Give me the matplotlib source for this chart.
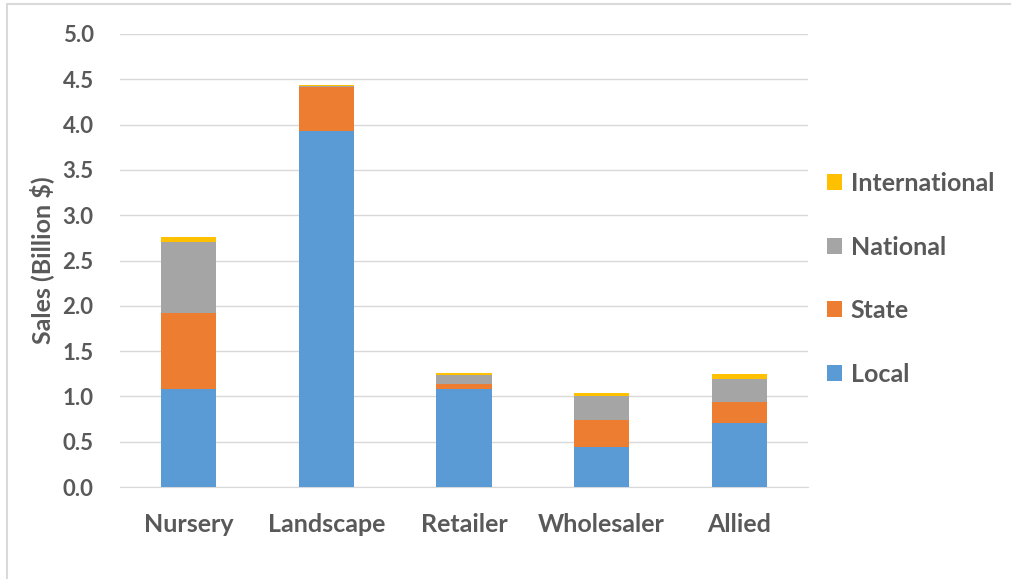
import matplotlib.pyplot as plt
import numpy as np
from matplotlib.patches import Rectangle

# sales by market, billion dollars
categories = ['Nursery', 'Landscape', 'Retailer', 'Wholesaler', 'Allied']
local = [1.08, 3.93, 1.08, 0.44, 0.71]
state = [0.84, 0.49, 0.06, 0.30, 0.23]
national = [0.78, 0.005, 0.10, 0.26, 0.25]
international = [0.06, 0.015, 0.015, 0.04, 0.06]

series = [('Local', local, '#5b9bd5'),
          ('State', state, '#ed7d31'),
          ('National', national, '#a5a5a5'),
          ('International', international, '#ffc000')]

plt.rcParams['font.family'] = ['Lato', 'DejaVu Sans']
plt.rcParams['font.weight'] = 'bold'
text_color = '#595959'

fig = plt.figure(figsize=(10.11, 5.79), dpi=100)
ax = fig.add_axes([120 / 1011, 1 - 487 / 579, 688 / 1011, 453 / 579])

x = np.arange(len(categories))
bottom = np.zeros(len(categories))
handles = []
for name, vals, color in series:
    b = ax.bar(x, vals, 0.4, bottom=bottom, color=color, label=name,
               linewidth=0, zorder=3)
    handles.append(b)
    bottom += np.array(vals)

ax.set_xlim(-0.5, 4.5)
ax.set_ylim(0, 5.0)
ax.set_yticks(np.arange(0, 5.01, 0.5))
ax.set_yticklabels([f'{v:.1f}' for v in np.arange(0, 5.01, 0.5)])
ax.set_xticks(x)
ax.set_xticklabels(categories)
ax.grid(axis='y', color='#d9d9d9', linewidth=1, zorder=0)
for s in ['top', 'right', 'left']:
    ax.spines[s].set_visible(False)
ax.spines['bottom'].set_color('#d9d9d9')
ax.tick_params(length=0, colors=text_color, labelsize=16)
ax.tick_params(axis='y', pad=19)
ax.tick_params(axis='x', pad=18.5, labelsize=18)
ax.set_ylabel('Sales (Billion $)', color=text_color, fontsize=18,
              fontweight='bold', labelpad=6)

leg = fig.legend(handles[::-1], [h.get_label() for h in handles[::-1]],
                 loc='center left', bbox_to_anchor=(827 / 1011, 1 - 279 / 579),
                 frameon=False, fontsize=18, labelspacing=1.62, borderpad=0,
                 borderaxespad=0, handlelength=0.6, handleheight=0.6,
                 handletextpad=0.35)
for t in leg.get_texts():
    t.set_color(text_color)

# chart frame
fig.patches.append(Rectangle((7 / 1011, -0.05), 1.1, 1 - 4 / 579 + 0.05,
                             transform=fig.transFigure, fill=False,
                             edgecolor='#d9d9d9', linewidth=1.5))

fig.savefig('out.png', dpi=100)
